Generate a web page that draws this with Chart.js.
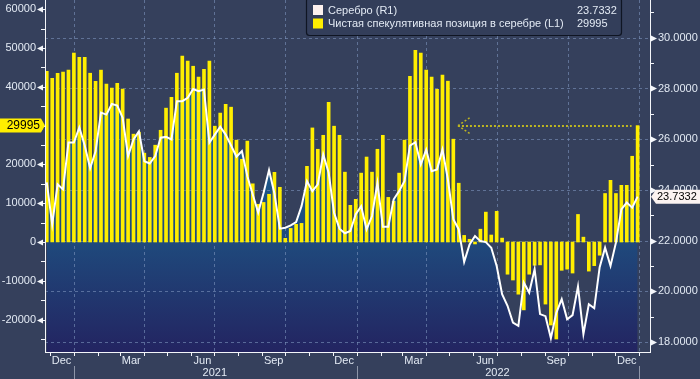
<!DOCTYPE html>
<html><head><meta charset="utf-8">
<script src="https://cdn.jsdelivr.net/npm/chart.js@4.4.1/dist/chart.umd.min.js"></script>
<style>html,body{margin:0;padding:0;background:#35405c;}#wrap{width:700px;height:379px;position:relative;}</style>
</head><body><div id="wrap"><canvas id="c"></canvas></div>
<script>
// ---- data (weekly, CFTC report dates) ----
const weekDates = [
'2020-11-27','2020-12-04','2020-12-11','2020-12-18','2020-12-25',
'2021-01-01','2021-01-08','2021-01-15','2021-01-22','2021-01-29','2021-02-05','2021-02-12','2021-02-19','2021-02-26',
'2021-03-05','2021-03-12','2021-03-19','2021-03-26','2021-04-02','2021-04-09','2021-04-16','2021-04-23','2021-04-30',
'2021-05-07','2021-05-14','2021-05-21','2021-05-28','2021-06-04','2021-06-11','2021-06-18','2021-06-25','2021-07-02',
'2021-07-09','2021-07-16','2021-07-23','2021-07-30','2021-08-06','2021-08-13','2021-08-20','2021-08-27','2021-09-03',
'2021-09-10','2021-09-17','2021-09-24','2021-10-01','2021-10-08','2021-10-15','2021-10-22','2021-10-29','2021-11-05',
'2021-11-12','2021-11-19','2021-11-26','2021-12-03','2021-12-10','2021-12-17','2021-12-24','2021-12-31',
'2022-01-07','2022-01-14','2022-01-21','2022-01-28','2022-02-04','2022-02-11','2022-02-18','2022-02-25','2022-03-04',
'2022-03-11','2022-03-18','2022-03-25','2022-04-01','2022-04-08','2022-04-15','2022-04-22','2022-04-29','2022-05-06',
'2022-05-13','2022-05-20','2022-05-27','2022-06-03','2022-06-10','2022-06-17','2022-06-24','2022-07-01','2022-07-08',
'2022-07-15','2022-07-22','2022-07-29','2022-08-05','2022-08-12','2022-08-19','2022-08-26','2022-09-02','2022-09-09',
'2022-09-16','2022-09-23','2022-09-30','2022-10-07','2022-10-14','2022-10-21','2022-10-28','2022-11-04','2022-11-11',
'2022-11-18','2022-11-25','2022-12-02','2022-12-09','2022-12-16','2022-12-23','2022-12-30'];

const netSpecPosition = [
44000,42200,43500,43800,44300,48700,47600,47600,43500,41400,
44300,40700,39700,40900,39400,31700,27800,28300,22900,21800,
24950,28800,34500,37300,43500,47900,46600,45300,42500,44500,
46600,29850,33200,35500,34750,26250,21300,26000,15000,9700,
10200,12300,17950,14100,950,3500,4550,4800,19500,29400,
23900,27500,36000,29850,27500,18000,9450,11000,17750,21900,
18000,23900,27500,11500,10500,17750,26250,42700,49400,48700,
44300,42500,39350,43000,41450,26500,15150,1700,700,-500,
3300,7700,1800,7900,1000,-8300,-9800,-13450,-17500,-8300,
-6000,-5900,-16000,-21400,-25000,-7300,-7000,-8000,7100,1250,
-7500,-6100,-3400,12500,15900,12500,14600,14600,22100,29995];

const silverPrice = [
24.30,22.64,24.22,24.02,25.87,25.87,26.46,25.75,24.85,25.52,
27.05,26.97,27.39,27.33,26.84,25.33,25.99,26.31,25.13,25.04,
25.33,26.06,26.09,25.99,27.50,27.50,27.63,27.98,27.89,27.96,
25.86,26.18,26.49,26.18,25.75,25.31,25.53,24.54,23.82,23.10,
23.89,24.78,23.86,22.47,22.51,22.60,22.73,23.36,24.35,23.95,
24.22,25.40,24.68,23.10,22.47,22.29,22.38,23.04,23.36,22.44,
22.97,24.28,22.55,22.55,23.63,23.95,24.35,25.75,25.88,25.00,
25.59,24.74,24.81,25.59,24.41,22.84,22.44,21.16,21.85,22.18,
21.98,21.94,21.72,21.00,19.89,19.43,18.77,18.64,20.35,19.95,
20.87,19.10,19.02,18.15,19.15,19.69,18.90,19.06,20.19,18.31,
19.49,19.33,20.95,21.72,21.00,21.92,23.23,23.50,23.30,23.7332];

const seriesNames = ['Серебро (R1)', 'Чистая спекулятивная позиция в серебре (L1)'];
const leftTicks = [-20000,-10000,0,10000,20000,30000,40000,50000,60000];
const rightTicks = [18,20,22,24,26,28,30];
const monthTickDates = ['2020-12-16','2021-03-16','2021-06-16','2021-09-16','2021-12-16','2022-03-16','2022-06-16','2022-09-16','2022-12-16'];
const monthTickLabels = ['Dec','Mar','Jun','Sep','Dec','Mar','Jun','Sep','Dec'];
const yearTickDates = ['2021-07-02','2022-07-02'];
const yearTickLabels = ['2021','2022'];
const quarterStarts = ['2021-01-01','2021-04-01','2021-07-01','2021-10-01','2022-01-01','2022-04-01','2022-07-01','2022-10-01','2023-01-01'];
const yearStarts = ['2021-01-01','2022-01-01','2023-01-01'];
const arrowFrom = '2022-05-12';

// ---- helpers ----
const day = s => Date.UTC(+s.slice(0,4), +s.slice(5,7)-1, +s.slice(8,10)) / 86400000;
const X_MIN = day('2020-11-24') + 0.7, X_MAX = day('2023-01-15');
const FONT = '"Liberation Sans", Arial, sans-serif';
const TXT = '#e3eaf4';
const lastPos = netSpecPosition[netSpecPosition.length-1];
const lastPrice = silverPrice[silverPrice.length-1];

const monthStarts = [];
for (let y = 2020, m = 11; y < 2023 || m === 0; ) {
  monthStarts.push(Date.UTC(y, m, 1) / 86400000);
  m++; if (m > 11) { m = 0; y++; }
  if (y === 2023 && m > 0) break;
}

const deco = {
  id: 'deco',
  beforeDatasetsDraw(chart) {
    const {ctx, chartArea: a} = chart; const sx = chart.scales.x, sr = chart.scales.y1;
    ctx.save();
    ctx.beginPath(); ctx.rect(a.left, a.top, a.right - a.left, a.bottom - a.top); ctx.clip();
    ctx.strokeStyle = 'rgba(125,148,188,0.6)'; ctx.lineWidth = 1; ctx.setLineDash([3,3]);
    ctx.beginPath();
    rightTicks.forEach(v => { const y = Math.round(sr.getPixelForValue(v)) + 0.5; ctx.moveTo(a.left, y); ctx.lineTo(a.right, y); });
    quarterStarts.forEach(d => { const x = Math.round(sx.getPixelForValue(day(d))) + 0.5; ctx.moveTo(x, a.top); ctx.lineTo(x, a.bottom); });
    ctx.stroke();
    ctx.restore();
  },
  afterDraw(chart) {
    const {ctx, chartArea: a} = chart; const sx = chart.scales.x, sy = chart.scales.y, sr = chart.scales.y1;
    ctx.save();
    ctx.strokeStyle = '#f4f6fa'; ctx.fillStyle = '#f4f6fa'; ctx.lineWidth = 1;
    // axis lines
    ctx.beginPath();
    ctx.moveTo(a.left + 0.5, a.top); ctx.lineTo(a.left + 0.5, a.bottom + 1);
    ctx.moveTo(a.right + 0.5, a.top); ctx.lineTo(a.right + 0.5, a.bottom + 1);
    ctx.moveTo(a.left, a.bottom + 0.5); ctx.lineTo(a.right + 1, a.bottom + 0.5);
    ctx.stroke();
    // left ticks
    leftTicks.forEach(v => {
      const y = Math.round(sy.getPixelForValue(v)) + 0.5;
      ctx.beginPath(); ctx.moveTo(a.left - 8, y); ctx.lineTo(a.left - 2, y - 3); ctx.lineTo(a.left - 2, y + 3); ctx.closePath(); ctx.fill();
      ctx.beginPath(); ctx.moveTo(a.left - 2, y); ctx.lineTo(a.left, y); ctx.stroke();
    });
    for (let v = leftTicks[0] - 5000; v <= sy.max; v += 10000) {
      if (v < sy.min) continue;
      const y = Math.round(sy.getPixelForValue(v)) + 0.5;
      ctx.beginPath(); ctx.moveTo(a.left - 4, y); ctx.lineTo(a.left, y); ctx.stroke();
    }
    // right ticks
    rightTicks.forEach(v => {
      const y = Math.round(sr.getPixelForValue(v)) + 0.5;
      ctx.beginPath(); ctx.moveTo(a.right + 1, y - 3); ctx.lineTo(a.right + 7, y); ctx.lineTo(a.right + 1, y + 3); ctx.closePath(); ctx.fill();
    });
    for (let v = rightTicks[0] - 1; v <= sr.max; v += 2) {
      if (v < sr.min) continue;
      const y = Math.round(sr.getPixelForValue(v)) + 0.5;
      ctx.beginPath(); ctx.moveTo(a.right, y); ctx.lineTo(a.right + 4, y); ctx.stroke();
    }
    // month ticks
    ctx.beginPath();
    monthStarts.forEach(d => { if (d < sx.min || d > sx.max) return; const x = Math.round(sx.getPixelForValue(d)) + 0.5; ctx.moveTo(x, a.bottom); ctx.lineTo(x, a.bottom + 4); });
    ctx.stroke();
    // year separators
    ctx.strokeStyle = '#8d95a8';
    ctx.beginPath();
    yearStarts.forEach(d => { const x = Math.round(sx.getPixelForValue(day(d))) + 0.5; ctx.moveTo(x, a.bottom + 14); ctx.lineTo(x, chart.height); });
    ctx.stroke();

    // dotted arrow to last position
    const yv = sy.getPixelForValue(lastPos);
    const x0 = sx.getPixelForValue(day(arrowFrom));
    const x1 = sx.getPixelForValue(day(weekDates[weekDates.length-1])) - 6;
    ctx.strokeStyle = '#bdb521'; ctx.lineWidth = 2; ctx.setLineDash([2,2]);
    ctx.beginPath(); ctx.moveTo(x0, Math.round(yv)); ctx.lineTo(x1, Math.round(yv)); ctx.stroke();
    ctx.lineWidth = 1.5;
    ctx.beginPath(); ctx.moveTo(x0, yv); ctx.lineTo(x0 + 12, yv - 8); ctx.moveTo(x0, yv); ctx.lineTo(x0 + 12, yv + 8); ctx.stroke();
    ctx.setLineDash([]);

    // left tag
    ctx.fillStyle = '#ffee00';
    ctx.beginPath(); ctx.moveTo(0, yv - 7); ctx.lineTo(41, yv - 7); ctx.lineTo(45, yv); ctx.lineTo(41, yv + 7); ctx.lineTo(0, yv + 7); ctx.closePath(); ctx.fill();
    ctx.fillStyle = '#000'; ctx.font = '12px ' + FONT; ctx.textAlign = 'right'; ctx.textBaseline = 'middle';
    ctx.fillText(String(lastPos), 40, yv + 0.5);

    // right tag
    const yr = sr.getPixelForValue(lastPrice);
    ctx.fillStyle = '#fbf3f1';
    ctx.beginPath(); ctx.moveTo(a.right + 1, yr); ctx.lineTo(a.right + 6, yr - 7); ctx.lineTo(700, yr - 7); ctx.lineTo(700, yr + 7); ctx.lineTo(a.right + 6, yr + 7); ctx.closePath(); ctx.fill();
    ctx.fillStyle = '#000'; ctx.font = '11px ' + FONT; ctx.textAlign = 'left';
    ctx.fillText(lastPrice.toFixed(4), a.right + 7, yr + 0.5);

    // legend
    const lx = 306.5, ly = -2, lw = 315, lh = 37.5;
    ctx.fillStyle = '#333e5a'; ctx.strokeStyle = '#0f1523'; ctx.lineWidth = 1.2;
    ctx.beginPath();
    if (ctx.roundRect) ctx.roundRect(lx, ly, lw, lh, 3); else ctx.rect(lx, ly, lw, lh);
    ctx.fill(); ctx.stroke();
    ctx.fillStyle = '#fdf1ee'; ctx.fillRect(313, 5, 10, 10);
    ctx.fillStyle = '#ffee00'; ctx.fillRect(313, 18.5, 10, 10);
    ctx.fillStyle = TXT; ctx.font = '11px ' + FONT; ctx.textAlign = 'left'; ctx.textBaseline = 'middle';
    ctx.fillText(seriesNames[0], 328, 11);
    ctx.fillText(seriesNames[1], 328, 24);
    ctx.fillText(lastPrice.toFixed(4), 577, 11);
    ctx.fillText(String(lastPos), 577, 24);
    ctx.restore();
  }
};

const tickFont = {family: FONT, size: 11};
new Chart(document.getElementById('c'), {
  type: 'bar',
  data: {
    datasets: [
      {
        type: 'line', label: seriesNames[0], yAxisID: 'y1', xAxisID: 'x', order: 1,
        data: weekDates.map((d, i) => ({x: day(d), y: silverPrice[i]})),
        borderColor: '#ffffff', borderWidth: 2, pointRadius: 0, tension: 0, fill: 'start',
        backgroundColor: (c) => {
          const a = c.chart.chartArea; if (!a) return '#1f4b7e';
          const g = c.chart.ctx.createLinearGradient(0, a.top, 0, a.bottom);
          g.addColorStop(0, '#1a6ca0'); g.addColorStop(0.45, '#1c5a8c'); g.addColorStop(0.69, '#1f497c'); g.addColorStop(1, '#232461');
          return g;
        }
      },
      {
        type: 'bar', label: seriesNames[1], yAxisID: 'y', xAxisID: 'x', order: 2,
        data: weekDates.map((d, i) => ({x: day(d), y: netSpecPosition[i]})),
        backgroundColor: '#ffee00', barThickness: 3
      }
    ]
  },
  options: {
    responsive: true, maintainAspectRatio: false, animation: false,
    layout: {padding: 0},
    plugins: {legend: {display: false}, tooltip: {enabled: false}, filler: {drawTime: 'beforeDatasetsDraw'}},
    scales: {
      x: {
        type: 'linear', axis: 'x', position: 'bottom', min: X_MIN, max: X_MAX, offset: false, weight: 0,
        afterBuildTicks: s => { s.ticks = monthTickDates.map(d => ({value: day(d)})); },
        afterFit: s => { s.height = 14; s.paddingLeft = 0; s.paddingRight = 0; },
        grid: {display: false, drawTicks: false}, border: {display: false},
        ticks: {padding: 2, autoSkip: false, maxRotation: 0, minRotation: 0, color: TXT, font: tickFont, callback: (v, i) => monthTickLabels[i]}
      },
      x2: {
        type: 'linear', axis: 'x', position: 'bottom', min: X_MIN, max: X_MAX, offset: false, weight: 1,
        afterBuildTicks: s => { s.ticks = yearTickDates.map(d => ({value: day(d)})); },
        afterFit: s => { s.height = 13; s.paddingLeft = 0; s.paddingRight = 0; },
        grid: {display: false, drawTicks: false}, border: {display: false},
        ticks: {padding: 0, autoSkip: false, maxRotation: 0, minRotation: 0, color: TXT, font: tickFont, callback: (v, i) => yearTickLabels[i]}
      },
      y: {
        type: 'linear', position: 'left', min: -28350, max: 62370,
        afterBuildTicks: s => { s.ticks = leftTicks.map(v => ({value: v})); },
        afterFit: s => { s.width = 45; s.paddingTop = 0; s.paddingBottom = 0; },
        grid: {display: false, drawTicks: false}, border: {display: false},
        ticks: {padding: 9, color: TXT, font: tickFont, callback: v => String(v)}
      },
      y1: {
        type: 'linear', position: 'right', min: 17.606, max: 31.49,
        afterBuildTicks: s => { s.ticks = rightTicks.map(v => ({value: v})); },
        afterFit: s => { s.width = 50; s.paddingTop = 0; s.paddingBottom = 0; },
        grid: {display: false, drawTicks: false}, border: {display: false},
        ticks: {padding: 8, color: TXT, font: tickFont, callback: v => Number(v).toFixed(4)}
      }
    }
  },
  plugins: [deco]
});
</script>
</body></html>
